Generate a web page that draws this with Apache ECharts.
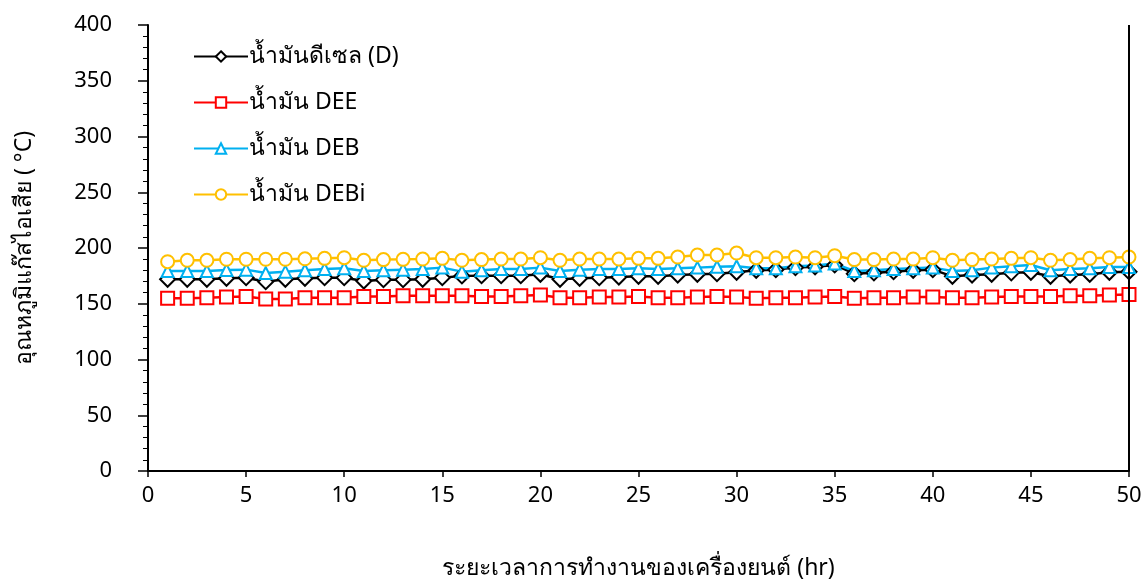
<!DOCTYPE html>
<html>
<head>
<meta charset="utf-8">
<script src="https://cdn.jsdelivr.net/npm/echarts@6/dist/echarts.min.js"></script>
<style>
  html, body { margin: 0; padding: 0; background: #fff; }
  #chart { width: 1147px; height: 582px; }
</style>
</head>
<body>
<div id="chart"></div>
<script>
// Engine running time (hr)
const hours = [1, 2, 3, 4, 5, 6, 7, 8, 9, 10, 11, 12, 13, 14, 15, 16, 17, 18, 19, 20,
  21, 22, 23, 24, 25, 26, 27, 28, 29, 30, 31, 32, 33, 34, 35, 36, 37, 38, 39, 40,
  41, 42, 43, 44, 45, 46, 47, 48, 49, 50];

// Exhaust gas temperature (°C) for each fuel
const dieselD = [172, 172, 172, 172.8, 173.4, 169.8, 172, 172.8, 173.4, 173.4,
  170.4, 171.6, 171.6, 172, 173.4, 175, 175.2, 175.2, 175.2, 176.4,
  172, 172.8, 173.4, 174, 174.6, 174.6, 175.8, 176.4, 177, 178.2,
  180, 180.6, 182.4, 183.2, 184.8, 177, 177.7, 178.8, 180, 180.6,
  174.6, 175.8, 176.4, 177.7, 178.2, 174.6, 175.8, 176.4, 178.2, 178.8];
const oilDEE = [154.9, 154.9, 155.4, 156, 156.6, 154.3, 154.3, 155.4, 155.4, 155.4,
  156.6, 156.6, 157.2, 157.2, 157.2, 157.2, 156.4, 156.4, 157.2, 157.8,
  155.4, 155.4, 156, 156, 156.6, 155.4, 155.4, 156, 156.6, 156,
  154.9, 155.4, 155.4, 156, 156.6, 154.9, 155.4, 155.4, 156, 156,
  155.4, 155.4, 156, 156.6, 156.6, 156.6, 157.2, 157.2, 157.8, 158.4];
const oilDEB = [179.4, 179.4, 179.4, 180.3, 180.6, 177.6, 178.8, 180, 181.2, 181.8,
  179.4, 180, 180.6, 181.2, 182.4, 178.8, 180, 181.2, 181.2, 182.4,
  179.4, 180.6, 181.2, 181.2, 181.8, 181.2, 181.8, 182.4, 183.2, 183.6,
  181.8, 181.8, 183.6, 184.2, 186, 179.4, 180, 181.2, 181.8, 182.4,
  179.4, 180, 182.4, 183.6, 184.8, 180, 181.2, 181.8, 183, 183];
const oilDEBi = [187.7, 189, 189, 189.9, 189.9, 189.9, 189.9, 190.3, 190.7, 191.3,
  189, 189.6, 189.8, 190.1, 190.7, 189, 189.6, 190.1, 190.1, 191.3,
  189, 190.1, 190.1, 190.1, 190.7, 190.7, 191.9, 193.7, 193.7, 195.5,
  191.3, 191.3, 191.9, 191.3, 193.1, 189.6, 189.6, 190.1, 190.1, 191.3,
  189, 189.6, 190.1, 190.7, 191.3, 189, 189.6, 190.7, 191.3, 191.9];

const seriesNames = ['น้ำมันดีเซล (D)', 'น้ำมัน DEE', 'น้ำมัน DEB', 'น้ำมัน DEBi'];
const xTitle = 'ระยะเวลาการทำงานของเครื่องยนต์ (hr)';
const yTitle = 'อุณหภูมิแก๊สไอเสีย ( °C)';

const FONT = 'Tahoma, "Noto Sans", "DejaVu Sans", sans-serif';
const FS = 22;
const FS_TITLE = 23;

const pairs = vals => hours.map((h, i) => [h, vals[i]]);

function lineSeries(name, vals, color, symbol, size) {
  return {
    name: name,
    type: 'line',
    data: pairs(vals),
    symbol: symbol,
    symbolSize: size,
    showAllSymbol: true,
    lineStyle: { color: color, width: 2.5 },
    itemStyle: { color: '#fff', borderColor: color, borderWidth: 2 },
    emphasis: { disabled: true },
    animation: false,
    z: 3
  };
}

const chart = echarts.init(document.getElementById('chart'), null, { renderer: 'canvas' });
chart.setOption({
  backgroundColor: '#fff',
  textStyle: { fontFamily: FONT },
  animation: false,
  grid: {
    left: 148, right: 18, top: 25, bottom: 111,
    containLabel: false,
    outerBoundsMode: 'none'
  },
  legend: {
    left: 188,
    top: 40,
    orient: 'vertical',
    itemWidth: 54,
    itemHeight: 13,
    itemGap: 23,
    textStyle: { fontSize: FS_TITLE, color: '#000', fontFamily: FONT, padding: [0, 0, 0, -4] },
    data: seriesNames
  },
  xAxis: {
    type: 'value',
    min: 0,
    max: 50,
    interval: 5,
    name: xTitle,
    nameLocation: 'middle',
    nameGap: 86,
    nameTextStyle: { fontSize: FS_TITLE, color: '#000', fontFamily: FONT },
    axisLine: { show: true, onZero: false, lineStyle: { color: '#000', width: 2 } },
    axisTick: { show: true, inside: false, length: 6, lineStyle: { color: '#000', width: 1.5 } },
    axisLabel: { fontSize: FS, color: '#000', margin: 14, fontFamily: FONT },
    splitLine: { show: false }
  },
  yAxis: {
    type: 'value',
    min: 0,
    max: 400,
    interval: 50,
    name: yTitle,
    nameLocation: 'middle',
    nameGap: 112,
    nameTextStyle: { fontSize: FS_TITLE, color: '#000', fontFamily: FONT },
    axisLine: { show: true, onZero: false, lineStyle: { color: '#000', width: 2 } },
    axisTick: { show: true, inside: false, length: 10, lineStyle: { color: '#000', width: 1.5 } },
    minorTick: { show: true, splitNumber: 5, length: 5, lineStyle: { color: '#000', width: 1 } },
    axisLabel: { fontSize: FS, color: '#000', margin: 36, fontFamily: FONT },
    splitLine: { show: false }
  },
  series: [
    lineSeries(seriesNames[0], dieselD, '#000000', 'diamond', 15),
    lineSeries(seriesNames[1], oilDEE, '#FF0000', 'rect', 13),
    lineSeries(seriesNames[2], oilDEB, '#00B0F0', 'triangle', 12),
    lineSeries(seriesNames[3], oilDEBi, '#FFC000', 'circle', 13)
  ]
});

// Right-hand frame edge of the plot area, placed from the axis scales
const frameTop = chart.convertToPixel({ yAxisIndex: 0 }, 400);
const frameBottom = chart.convertToPixel({ yAxisIndex: 0 }, 0);
const frameRight = chart.convertToPixel({ xAxisIndex: 0 }, 50);
chart.setOption({
  graphic: [{
    type: 'line',
    shape: { x1: frameRight, y1: frameTop, x2: frameRight, y2: frameBottom },
    style: { stroke: '#000', lineWidth: 2 },
    z: 10
  }]
});
</script>
</body>
</html>
